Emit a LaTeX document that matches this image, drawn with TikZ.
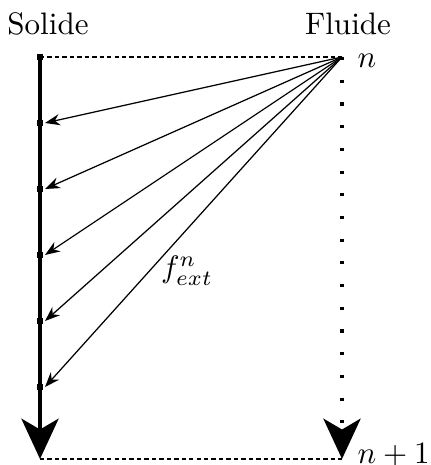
\documentclass[tikz,border=0pt]{standalone}
\usepackage{amsmath, amssymb}
\usepackage{tikz}
\usetikzlibrary{arrows.meta}

\begin{document}
\begin{tikzpicture}[x=0.322pt, y=-0.322pt, >=Stealth,
    bigtip/.style={-{Stealth[length=13pt, width=12pt, inset=3.5pt]}},
    tinydash/.style={dash pattern=on 1.4pt off 1pt}]
    \useasboundingbox (0,0) rectangle (430,465);

    % Time lines
    \coordinate (s0) at (40,57);
    \coordinate (f0) at (342,57);
    \coordinate (s1) at (40,459);
    \coordinate (f1) at (342,459);
    \draw[tinydash] (s0) -- (f0);
    \draw[tinydash] (s1) -- (f1);
    \draw[line width=1pt, bigtip] (s0) -- (s1);
    \draw[line width=1pt, dash pattern=on 1pt off 6.31pt, bigtip] (f0) -- (f1);

    % Labels
    \node[anchor=base] (solide) at (48,35) {Solide};
    \node[anchor=base] (fluide) at (348,35) {Fluide};
    \node[anchor=base west, inner sep=0pt] (tn) at (357,68) {$n$};
    \node[anchor=base west, inner sep=0pt] (tn1) at (357,463) {$n+1$};
    \node[inner sep=0pt] (fext) at (187,271) {$f_{ext}^n$};

    % Solid nodes and transferred forces
    \foreach \k in {0,...,5}
        \coordinate (m\k) at (40,57+66*\k);
    \foreach \k in {0,...,5}
        \fill (m\k) +(-3,-3) rectangle +(3,3);
    \foreach \k in {1,...,5}
        \draw[->] (f0) -- ([xshift=5*0.322pt]m\k);
\end{tikzpicture}
\end{document}
